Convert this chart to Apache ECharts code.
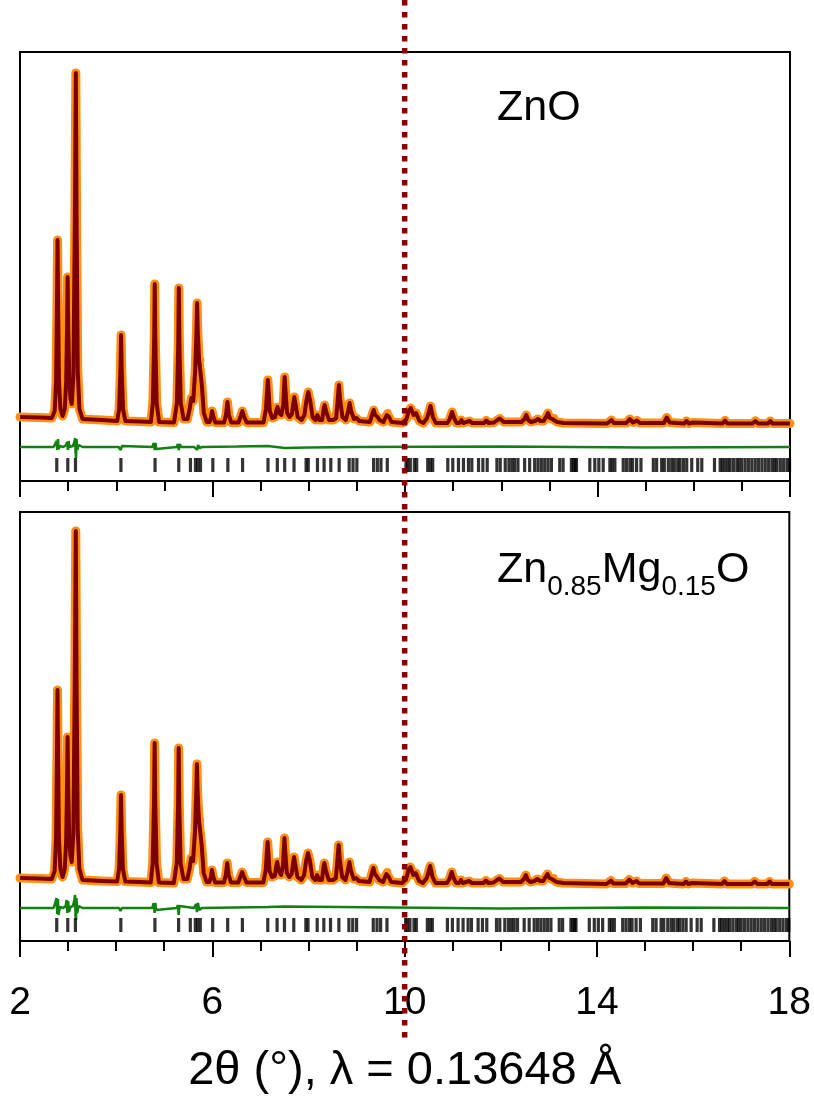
<!DOCTYPE html>
<html>
<head>
<meta charset="utf-8">
<title>ZnO / Zn0.85Mg0.15O Rietveld</title>
<script src="https://cdn.jsdelivr.net/npm/echarts@6/dist/echarts.min.js"></script>
<style>
  html, body { margin: 0; padding: 0; background: #fff; }
  #chart { width: 814px; height: 1099px; }
</style>
</head>
<body>
<div id="chart"></div>
<script>
// 2theta (deg) vs intensity (a.u.)
const znoProfile = [
  [2.0,64],[2.4,63.5],[2.66,63],
  [2.72,70],[2.75,100],[2.768,175],[2.78,241],[2.792,175],[2.81,100],[2.84,72],[2.885,65],
  [2.93,72],[2.96,100],[2.978,155],[2.99,204],[3.002,155],[3.025,100],[3.05,82],[3.075,77],
  [3.11,105],[3.14,260],[3.16,408],[3.176,260],[3.2,110],[3.235,72],[3.3,62],
  [3.7,61],[4.02,60],
  [4.06,72],[4.087,112],[4.1,146],[4.113,112],[4.14,72],[4.19,60],
  [4.5,59.5],[4.72,59],
  [4.76,78],[4.788,140],[4.8,197],[4.812,140],[4.84,78],[4.89,59],
  [5.2,58.5],
  [5.26,78],[5.288,138],[5.3,193],[5.312,138],[5.34,78],[5.4,62],
  [5.48,62],[5.525,72],[5.56,83],[5.6,80],[5.64,110],[5.667,150],[5.68,178],[5.693,150],
  [5.72,122],[5.75,121],[5.78,95],[5.82,68],[5.88,59],
  [5.94,59],[5.97,64],[5.99,70],[6.02,64],[6.06,58.5],
  [6.24,58.5],[6.28,66],[6.31,79],[6.34,66],[6.39,58.5],
  [6.54,58.5],[6.58,64],[6.62,70],[6.66,64],[6.71,58.5],
  [7.06,58.5],[7.11,72],[7.135,90],[7.15,101],[7.165,90],[7.19,70],[7.24,63],
  [7.3,64],[7.33,71],[7.35,74],[7.38,68],[7.43,66],
  [7.47,76],[7.488,94],[7.5,104],[7.514,92],[7.55,68],[7.6,64],
  [7.65,67],[7.68,78],[7.7,84],[7.72,78],[7.77,64],[7.85,61],
  [7.91,66],[7.95,80],[7.99,89],[8.03,80],[8.08,64],
  [8.14,61],[8.18,66],[8.22,61],
  [8.28,61],[8.31,72],[8.33,76],[8.36,70],[8.42,61],
  [8.46,63],[8.51,61],
  [8.57,63],[8.6,80],[8.627,96],[8.65,82],[8.7,64],
  [8.77,61],[8.82,70],[8.85,78],[8.88,70],[8.94,62],
  [8.99,63],[9.05,60],
  [9.27,59],[9.32,67],[9.35,71],[9.38,66],[9.43,64],[9.47,61],[9.5,62],[9.55,59],
  [9.59,60],[9.62,66],[9.64,68],[9.67,64],[9.72,59],
  [9.95,58],[10.03,62],[10.08,70],[10.12,73],[10.18,66],[10.23,68],[10.3,60],[10.38,58],
  [10.46,63],[10.53,75],[10.58,64],[10.64,58],
  [10.88,58],[10.93,62],[10.98,69],[11.02,63],[11.07,58],
  [11.13,58],[11.17,61],[11.21,58],[11.34,60],[11.4,58],
  [11.64,58],[11.69,60.5],[11.74,58],
  [11.85,58.5],[11.92,61],[11.97,62.5],[12.05,59],
  [12.42,59],[12.48,62],[12.52,66],[12.56,61],[12.62,59],
  [12.7,60],[12.76,62],[12.82,60],
  [12.88,60],[12.93,64],[12.97,68],[13.01,63],[13.06,62],[13.1,63],[13.16,59],
  [13.3,58],[14.2,57.5],
  [14.24,58],[14.29,61],[14.34,58],
  [14.6,58],[14.67,62],[14.74,58.5],[14.82,60.5],[14.88,58],
  [15.38,58],[15.44,63.5],[15.5,58.5],
  [15.8,57.5],[15.85,60],[15.9,57.5],[15.98,58.5],
  [16.6,57.5],[16.65,60.5],[16.7,57.5],
  [17.22,57.5],[17.28,60],[17.34,57.5],
  [17.54,57.5],[17.59,60],[17.64,57.5],[18.0,57.5]
];

const znmgoProfile = [
  [2.0,63],[2.4,62.5],[2.66,62],
  [2.72,70],[2.75,103],[2.768,182],[2.78,251],[2.792,182],[2.81,103],[2.84,72],[2.885,64],
  [2.93,72],[2.96,100],[2.978,155],[2.99,204],[3.002,155],[3.025,102],[3.05,85],[3.075,79],
  [3.11,107],[3.14,262],[3.16,410],[3.176,262],[3.2,112],[3.235,72],[3.3,61],
  [3.7,60],[4.02,59.5],
  [4.06,72],[4.087,112],[4.1,146],[4.113,112],[4.14,72],[4.19,59.5],
  [4.5,59],[4.72,58.5],
  [4.76,78],[4.788,141],[4.8,198],[4.812,141],[4.84,78],[4.89,58.5],
  [5.2,58],
  [5.26,78],[5.288,138],[5.3,193],[5.312,138],[5.34,78],[5.4,62],
  [5.48,62],[5.525,72],[5.56,83],[5.6,80],[5.64,110],[5.667,150],[5.68,177],[5.693,150],
  [5.72,122],[5.75,121],[5.78,95],[5.82,68],[5.88,59],
  [5.94,59],[5.97,64],[5.99,71],[6.02,64],[6.06,58.5],
  [6.24,58.5],[6.28,66],[6.31,78],[6.34,66],[6.39,58.5],
  [6.54,58.5],[6.58,64],[6.62,69],[6.66,64],[6.71,58.5],
  [7.06,58.5],[7.11,71],[7.135,89],[7.15,99],[7.165,89],[7.19,70],[7.24,64],
  [7.3,65],[7.33,75],[7.35,79],[7.38,70],[7.43,66],
  [7.47,76],[7.488,93],[7.5,103],[7.514,91],[7.55,68],[7.6,64],
  [7.65,67],[7.68,78],[7.7,84],[7.72,78],[7.77,64],[7.85,61],
  [7.91,66],[7.95,80],[7.99,88],[8.03,80],[8.08,64],
  [8.14,61],[8.18,66],[8.22,61],
  [8.28,61],[8.31,73],[8.33,78],[8.36,71],[8.42,61],
  [8.46,63],[8.51,61],
  [8.57,63],[8.6,80],[8.627,96],[8.65,82],[8.7,64],
  [8.77,61],[8.82,71],[8.85,79],[8.88,71],[8.94,62],
  [8.99,63],[9.05,60],
  [9.27,59],[9.32,68],[9.35,73],[9.38,67],[9.43,64],[9.47,61],[9.5,62],[9.55,59],
  [9.59,60],[9.62,67],[9.64,69],[9.67,64],[9.72,59],
  [9.95,58],[10.03,62],[10.08,71],[10.12,74],[10.18,66],[10.23,68],[10.3,60],[10.38,58],
  [10.46,63],[10.53,75],[10.58,64],[10.64,58],
  [10.88,58],[10.93,62],[10.98,69],[11.02,63],[11.07,58],
  [11.13,58],[11.17,61],[11.21,58],[11.34,60],[11.4,58],
  [11.64,58],[11.69,60.5],[11.74,58],
  [11.85,58.5],[11.92,61],[11.97,62.5],[12.05,59],
  [12.42,59],[12.48,62],[12.52,66],[12.56,61],[12.62,59],
  [12.7,60],[12.76,62],[12.82,60],
  [12.88,60],[12.93,64],[12.97,67],[13.01,63],[13.06,62],[13.1,63],[13.16,59],
  [13.3,58],[14.2,57],
  [14.24,57.5],[14.29,60.5],[14.34,57.5],
  [14.6,57.5],[14.67,61.5],[14.74,58],[14.82,60],[14.88,57.5],
  [15.38,57.5],[15.44,63],[15.5,58],
  [15.8,57],[15.85,59.5],[15.9,57],[15.98,58],
  [16.6,57],[16.65,60],[16.7,57],
  [17.22,57],[17.28,59.5],[17.34,57],
  [17.54,57],[17.59,59.5],[17.64,57],[18.0,57]
];

// obs - calc
const znoDiff = [
  [2.0,0],[2.7,0],[2.74,1],[2.76,6],[2.775,-3],[2.79,8],[2.8,-2],[2.83,1],[2.9,0],
  [2.96,2],[2.98,5],[2.995,-3],[3.01,6],[3.03,0],[3.1,1],[3.13,5],[3.145,9],[3.155,-6],
  [3.165,-11],[3.175,8],[3.19,-3],[3.22,2],[3.3,0],[4.05,0],[4.09,-3],[4.1,-5],[4.12,1],
  [4.16,0],[4.75,0],[4.78,4],[4.8,-3],[4.815,4],[4.83,-2],[4.87,0],[5.26,0],[5.28,3],
  [5.3,-3],[5.32,3],[5.35,0],[5.62,0],[5.66,2],[5.68,-3],[5.7,2],[5.73,-1],[5.78,0],
  [6.5,0.5],[7.15,1],[7.5,-1],[8.0,-0.5],[9.0,0],[12.0,0.5],[15.0,-0.5],[18.0,0]
];

const znmgoDiff = [
  [2.0,0],[2.7,0],[2.74,2],[2.76,10],[2.775,-6],[2.79,9],[2.8,-7],[2.83,1],[2.9,0],
  [2.95,2],[2.97,8],[2.985,-5],[3.0,7],[3.02,-4],[3.05,1],[3.1,2],[3.13,8],[3.145,13],
  [3.155,-8],[3.165,-12],[3.175,10],[3.19,-5],[3.22,2],[3.3,0],[4.06,0],[4.09,-3],
  [4.1,-5],[4.12,0],[4.75,0],[4.78,5],[4.8,-5],[4.815,5],[4.83,-2],[4.87,0],[5.26,0],
  [5.285,3],[5.3,-7],[5.315,2],[5.35,0],[5.62,0],[5.66,4],[5.68,-4],[5.7,5],[5.73,-2],
  [5.78,0],[6.5,0.5],[7.15,1],[7.5,1.5],[8.63,1],[12.0,-0.5],[15.0,0.5],[18.0,0]
];

// reflection positions (2theta, deg)
const braggPos = [
  2.764, 2.993, 3.153, 4.097, 4.806, 5.299, 5.542, 5.646, 5.694, 5.75, 6.007, 6.319,
  6.625, 7.153, 7.347, 7.5, 7.694, 7.945, 7.99, 8.181, 8.319, 8.458, 8.632, 8.84, 8.92,
  9.0, 9.347, 9.425, 9.5, 9.632, 10.02, 10.056, 10.11, 10.194, 10.243, 10.472, 10.528,
  10.576, 10.889, 10.993, 11.111, 11.215, 11.319, 11.389, 11.528, 11.618, 11.708, 11.91,
  11.979, 12.083, 12.16, 12.222, 12.278, 12.347, 12.486, 12.59, 12.694, 12.764, 12.833,
  12.903, 12.972, 13.042, 13.215, 13.285, 13.458, 13.5, 13.535, 13.563, 13.84, 13.944,
  14.028, 14.118, 14.257, 14.306, 14.361, 14.535, 14.604, 14.674, 14.729, 14.813, 14.903,
  15.16, 15.229, 15.333, 15.389, 15.472, 15.542, 15.597, 15.667, 15.715, 15.785, 15.854,
  15.958, 16.083, 16.167, 16.431, 16.549, 16.597, 16.653, 16.708, 16.757, 16.826, 16.896,
  16.944, 17.0, 17.069, 17.139, 17.208, 17.278, 17.347, 17.417, 17.486, 17.556, 17.625,
  17.68, 17.729, 17.799, 17.868, 17.938, 17.99
];

const markerTheta = 10;

const FONT = '"Liberation Sans", Arial, Helvetica, sans-serif';
const TICK_OFFSET = 16;

const panels = [
  { profile: znoProfile, diff: znoDiff, hkl: braggPos, diffOffset: 34, top: 52 },
  { profile: znmgoProfile, diff: znmgoDiff, hkl: braggPos, diffOffset: 33, top: 512 }
];

const chart = echarts.init(document.getElementById('chart'));

const grids = panels.map(p => ({
  left: 20, width: 770, top: p.top, height: 429,
  show: true, borderColor: '#000', borderWidth: 2, backgroundColor: 'transparent'
}));

const xAxes = panels.map((p, i) => ({
  gridIndex: i, type: 'value', min: 2, max: 18, interval: 4,
  axisLine: { onZero: false, lineStyle: { color: '#000', width: 2 } },
  axisTick: { show: true, inside: false, length: 16, lineStyle: { color: '#000', width: 2 } },
  minorTick: { show: true, splitNumber: 4, length: 10, lineStyle: { color: '#000', width: 2 } },
  splitLine: { show: false },
  minorSplitLine: { show: false },
  axisLabel: {
    show: i === 1, fontSize: 39, margin: 43, color: '#000', fontFamily: FONT,
    showMinLabel: true, showMaxLabel: true
  },
  name: i === 1 ? '2θ (°), λ = 0.13648 Å' : '',
  nameLocation: 'middle', nameGap: 107,
  nameTextStyle: { fontSize: 47, color: '#000', fontFamily: FONT }
}));

const yAxes = panels.map((p, i) => ({
  gridIndex: i, type: 'value', min: 0, max: 429, show: false, splitLine: { show: false }
}));

const series = [];
panels.forEach((p, i) => {
  // observed
  series.push({
    type: 'line', xAxisIndex: i, yAxisIndex: i, data: p.profile,
    symbol: 'circle', symbolSize: 8, showAllSymbol: true, silent: true,
    itemStyle: { color: '#ff8f10', borderWidth: 0 },
    lineStyle: { color: '#ff8f10', width: 9, join: 'round', cap: 'round' },
    z: 2
  });
  // calculated
  series.push({
    type: 'line', xAxisIndex: i, yAxisIndex: i, data: p.profile,
    showSymbol: false, silent: true,
    lineStyle: { color: '#7d0000', width: 4, join: 'round' },
    z: 3
  });
  // difference
  series.push({
    type: 'line', xAxisIndex: i, yAxisIndex: i,
    data: p.diff.map(d => [d[0], d[1] + p.diffOffset]),
    showSymbol: false, silent: true,
    lineStyle: { color: '#118211', width: 2.5 },
    z: 3
  });
  // reflection ticks
  series.push({
    type: 'scatter', xAxisIndex: i, yAxisIndex: i,
    data: p.hkl.map(x => [x, TICK_OFFSET]),
    symbol: 'rect', symbolSize: [3.2, 14], silent: true,
    itemStyle: { color: '#000' },
    z: 3
  });
});

const option = {
  animation: false,
  backgroundColor: '#fff',
  title: [
    {
      text: 'ZnO', left: 497, top: 87, padding: 0,
      textStyle: { fontSize: 43, fontWeight: 'normal', color: '#000', fontFamily: FONT }
    },
    {
      text: '{m|Zn}{s|0.85}{m|Mg}{s|0.15}{m|O}', left: 497, top: 558, padding: 0,
      textStyle: {
        fontWeight: 'normal',
        rich: {
          m: { fontSize: 43, fontWeight: 'normal', color: '#000', fontFamily: FONT, lineHeight: 43, verticalAlign: 'bottom', padding: [0, 0, 9, 0] },
          s: { fontSize: 28, fontWeight: 'normal', color: '#000', fontFamily: FONT, lineHeight: 28, verticalAlign: 'bottom' }
        }
      }
    }
  ],
  grid: grids,
  xAxis: xAxes,
  yAxis: yAxes,
  series: series
};

chart.setOption(option);

// dotted marker at 2theta = 10, running through both panels and the labels
const xm = chart.convertToPixel({ xAxisIndex: 1 }, markerTheta);
chart.setOption({
  graphic: [{
    type: 'line', silent: true, z: 100,
    shape: { x1: xm, y1: 0, x2: xm, y2: 1042 },
    style: { stroke: '#8b0000', lineWidth: 5.5, lineDash: [5.5, 6.5] }
  }]
});
</script>
</body>
</html>
